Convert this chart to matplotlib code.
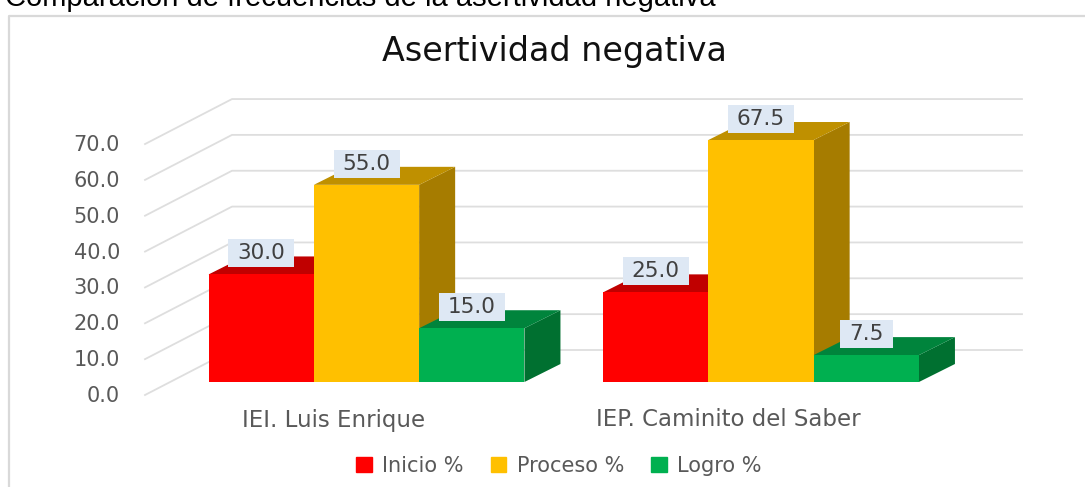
import matplotlib
matplotlib.use("Agg")
from matplotlib import pyplot as plt
from matplotlib.lines import Line2D
from matplotlib.patches import Patch, Polygon, Rectangle

W, H = 1085, 487

categories = ["IEI. Luis Enrique", "IEP. Caminito del Saber"]
series_names = ["Inicio %", "Proceso %", "Logro %"]
inicio = [30.0, 25.0]
proceso = [55.0, 67.5]
logro = [15.0, 7.5]
y_ticks = [0, 10, 20, 30, 40, 50, 60, 70]

front = ["#ff0000", "#ffc000", "#00b050"]
top = ["#c00000", "#bf9000", "#00843c"]
side = ["#a60000", "#a67c00", "#007030"]

# pixels per unit
px_x = 394.5
px_y = 3.585
x0_px, y0_px = 366.5, 382
bar_w = 105.3 / px_x
depth_x = 36 / px_x
depth_y = 18 / px_y
floor_y = -13 / px_y
back_y = 32 / px_y
wall_left = -221.5 / px_x
wall_back = -134.5 / px_x
wall_right = 655.5 / px_x

fig = plt.figure(figsize=(W / 100, H / 100), dpi=100)
ax = fig.add_axes([0, 0, 1, 1])
ax.set_xlim(-x0_px / px_x, (W - x0_px) / px_x)
ax.set_ylim((y0_px - H) / px_y, y0_px / px_y)
ax.axis("off")

# chart border
fig.add_artist(Line2D([9 / W, 9 / W, 1], [0, 1 - 16 / H, 1 - 16 / H], color="#d9d9d9", lw=1.6))

fig.text(5 / W, 1 - 6 / H, "Comparación de frecuencias de la asertividad negativa",
         family="Liberation Sans", fontsize=21, color="black", va="baseline")
ax.text(554 / px_x - x0_px / px_x, (y0_px - 52) / px_y, "Asertividad negativa",
        fontsize=24, color="#111111", ha="center", va="center")

# gridlines: side wall and back wall
for v in y_ticks:
    ax.plot([wall_left, wall_back, wall_right], [v + floor_y, v + back_y, v + back_y],
            color="#dedede", lw=1.3, zorder=1)
    ax.text(wall_left - 25 / px_x, v + floor_y - 1 / px_y, f"{v:.1f}", fontsize=15, color="#595959",
            ha="right", va="center")

for i, group in enumerate(zip(inicio, proceso, logro)):
    for j, val in enumerate(group):
        left = i + (j - 1.5) * bar_w
        right = left + bar_w
        ax.add_patch(Polygon([(right, 0), (right + depth_x, depth_y), (right + depth_x, val + depth_y), (right, val)],
                             color=side[j], lw=0, zorder=2 + j))
        ax.add_patch(Polygon([(left, val), (left + depth_x, val + depth_y), (right + depth_x, val + depth_y), (right, val)],
                             color=top[j], lw=0, zorder=2 + j))
        ax.bar(left, val, width=bar_w, align="edge", color=front[j], zorder=2 + j)
        # value label on a flat box
        label = f"{val:.1f}"
        box_w = (13 * len(label) + 14) / px_x
        cx, cy = left + bar_w / 2, val + 21 / px_y
        ax.add_patch(Rectangle((cx - box_w / 2, cy - 14 / px_y), box_w, 28 / px_y, fc="#dee8f4", ec="none", zorder=10))
        ax.text(cx, cy, label, fontsize=15.5, color="#404040", ha="center", va="center", zorder=11)
    ax.text(i - 33 / px_x, -38 / px_y, categories[i], fontsize=16.5, color="#595959", ha="center", va="center")

handles = [Patch(color=c, label=n) for c, n in zip(front, series_names)]
ax.legend(handles=handles, ncol=3, loc="center", bbox_to_anchor=(559 / W, 1 - 466 / H),
          frameon=False, fontsize=15, labelcolor="#595959", handlelength=0.75, handleheight=0.75,
          handletextpad=0.5, columnspacing=1.3)

fig.savefig("out.png", dpi=100)
